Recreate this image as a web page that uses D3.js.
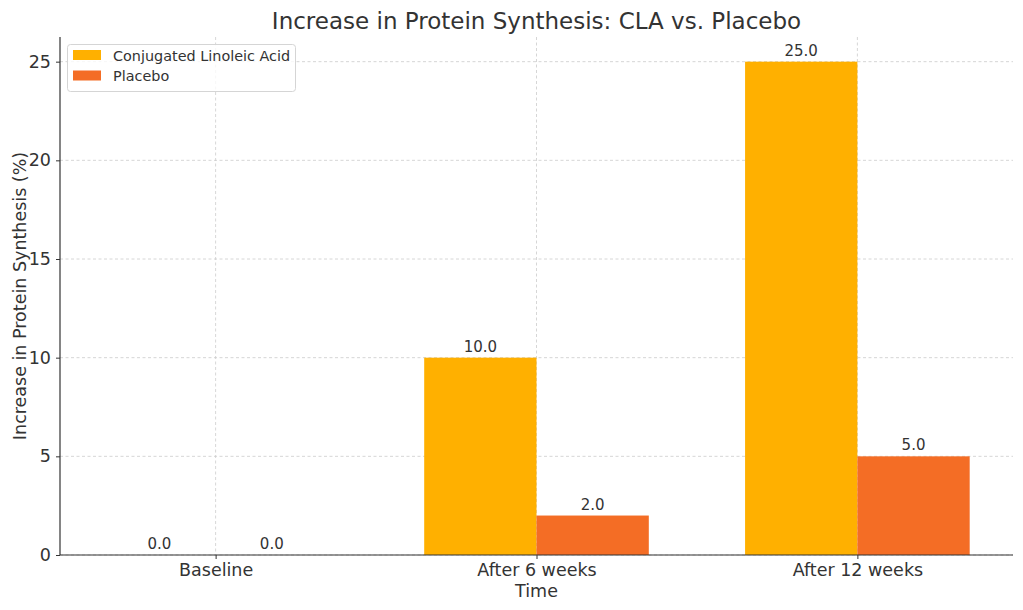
<!DOCTYPE html>
<html><head><meta charset="utf-8">
<script src="https://cdn.jsdelivr.net/npm/d3@7"></script>
<style>body{margin:0;background:#fff;font-family:"DejaVu Sans",sans-serif;}</style>
</head><body><svg id="c" width="1023" height="610"></svg>
<script>
const categories = ["Baseline", "After 6 weeks", "After 12 weeks"];
const seriesNames = ["Conjugated Linoleic Acid", "Placebo"];
const claValues = [0, 10, 25];
const placeboValues = [0, 2, 5];
const yTicks = [0, 5, 10, 15, 20, 25];
const colors = ["#FFB000", "#F46D25"];

const svg = d3.select("#c");
const L = 60, R = 1013, T = 37, B = 555;
const barW = 0.35;
const x = d3.scaleLinear().domain([-0.35 - 0.135, 2.35 + 0.135]).range([L, R]);
const y = d3.scaleLinear().domain([0, 26.25]).range([B, T]);
const txt = "#333333";

// grid
const g = svg.append("g");
yTicks.forEach(t => g.append("line").attr("x1", L).attr("x2", R).attr("y1", y(t)).attr("y2", y(t))
  .attr("stroke", "#cccccc").attr("stroke-width", 0.8).attr("stroke-dasharray", "3,2.5"));
categories.forEach((c, i) => g.append("line").attr("x1", x(i)).attr("x2", x(i)).attr("y1", T).attr("y2", B)
  .attr("stroke", "#cccccc").attr("stroke-width", 0.8).attr("stroke-dasharray", "3,2.5"));

const series = [claValues, placeboValues];
series.forEach((vals, s) => {
  vals.forEach((v, i) => {
    const x0 = s === 0 ? i - barW : i;
    svg.append("rect").attr("x", x(x0)).attr("width", x(x0 + barW) - x(x0))
      .attr("y", y(v)).attr("height", y(0) - y(v)).attr("fill", colors[s]);
    svg.append("text").attr("x", x(x0 + barW / 2)).attr("y", y(v) - 6)
      .attr("text-anchor", "middle").attr("font-size", 15).attr("fill", txt).text(v.toFixed(1));
  });
});

// axes
const yAxis = d3.axisLeft(y).tickValues(yTicks).tickSize(4).tickPadding(5);
const ya = svg.append("g").attr("transform", `translate(${L},0)`).call(yAxis);
const xAxis = d3.axisBottom(x).tickValues([0, 1, 2]).tickFormat(i => categories[i]).tickSize(4).tickPadding(5);
const xa = svg.append("g").attr("transform", `translate(0,${B})`).call(xAxis);
[ya, xa].forEach(a => {
  a.selectAll("text").attr("font-size", 17.5).attr("fill", txt).attr("font-family", "DejaVu Sans");
  a.selectAll("line").attr("stroke", txt);
  a.select(".domain").attr("stroke", txt).attr("stroke-width", 1.2);
});
ya.select(".domain").attr("d", `M0,${T}V${B}`);
xa.select(".domain").attr("d", `M${L},0H${R}`);

// title & labels
svg.append("text").attr("x", (L + R) / 2).attr("y", 29).attr("text-anchor", "middle")
  .attr("font-size", 23).attr("fill", txt).text("Increase in Protein Synthesis: CLA vs. Placebo");
svg.append("text").attr("x", (L + R) / 2).attr("y", 597).attr("text-anchor", "middle")
  .attr("font-size", 17.5).attr("fill", txt).text("Time");
svg.append("text").attr("transform", `translate(26,${(T + B) / 2}) rotate(-90)`).attr("text-anchor", "middle")
  .attr("font-size", 17.5).attr("fill", txt).text("Increase in Protein Synthesis (%)");

// legend
const lg = svg.append("g");
lg.append("rect").attr("x", 67.5).attr("y", 44.5).attr("width", 228).attr("height", 47).attr("rx", 3)
  .attr("fill", "#fff").attr("fill-opacity", 0.8).attr("stroke", "#d5d5d5");
seriesNames.forEach((n, i) => {
  lg.append("rect").attr("x", 73).attr("y", 50 + i * 20.5).attr("width", 28).attr("height", 10).attr("fill", colors[i]);
  lg.append("text").attr("x", 113).attr("y", 60.5 + i * 20.5).attr("font-size", 14.4).attr("fill", txt).text(n);
});
</script></body></html>
